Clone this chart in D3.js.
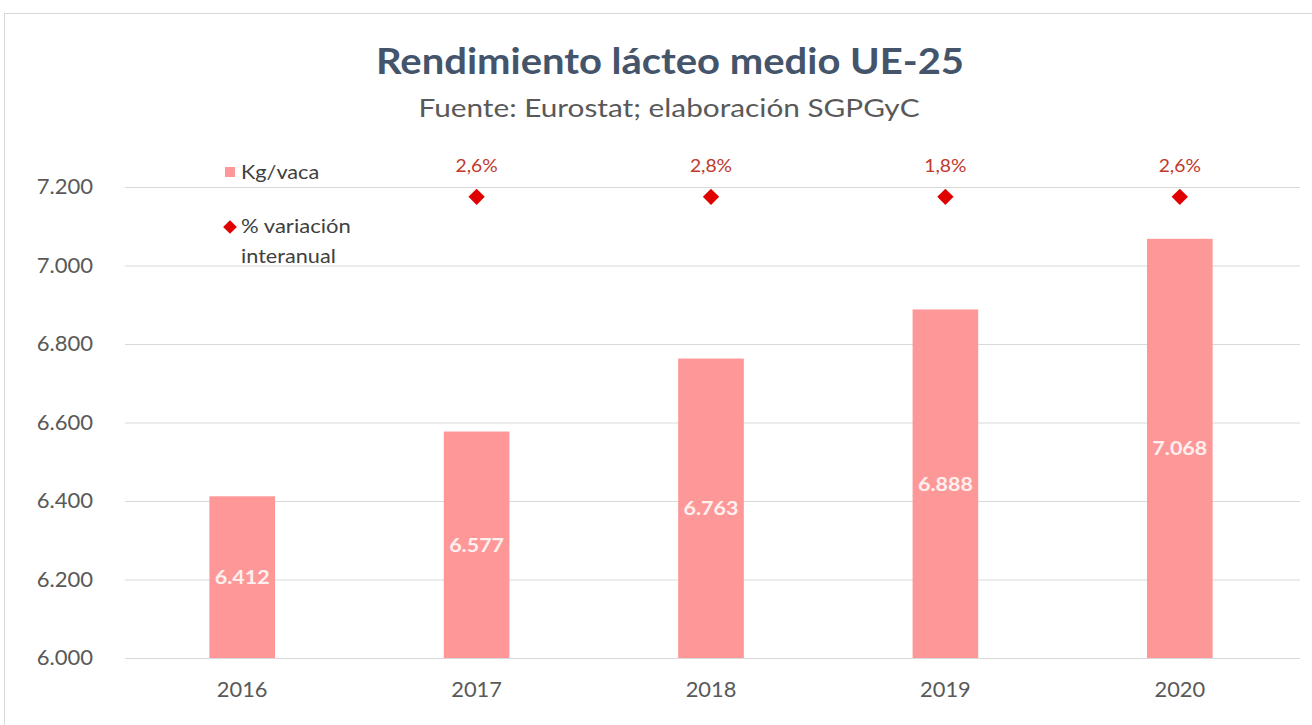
<!DOCTYPE html>
<html>
<head>
<meta charset="utf-8">
<script src="https://cdn.jsdelivr.net/npm/d3@7"></script>
<style>
  body { margin: 0; background: #fff; }
  svg { display: block; }
</style>
</head>
<body>
<div id="chart"></div>
<script>
const width = 1312;
const height = 725;

// data
const years = ["2016", "2017", "2018", "2019", "2020"];
const kgVaca = [6412, 6577, 6763, 6888, 7068];
const variacion = ["", "2,6%", "2,8%", "1,8%", "2,6%"];
const yTicks = [6000, 6200, 6400, 6600, 6800, 7000, 7200];
const markerLevel = 7175; // the % series sits on a flat line near the top

const fmt = v => globalThis.d3.format(",")(v).replace(/,/g, ".");

// the original picture is a bit wide, so text is stretched sideways
function stretch(sel, k) {
    sel.each(function () {
        const len = this.getComputedTextLength();
        globalThis.d3.select(this)
            .attr('textLength', len * k)
            .attr('lengthAdjust', 'spacingAndGlyphs');
    });
}

const margin = {top: 187, right: 15, bottom: 67, left: 125};

const svg = globalThis.d3.select('#chart')
    .append('svg')
    .attr('width', width)
    .attr('height', height);

// outer frame of the chart
svg.append('rect')
    .attr('x', 4.5).attr('y', 13.5)
    .attr('width', width).attr('height', height)
    .attr('fill', 'none')
    .attr('stroke', '#d9d9d9');

const x = globalThis.d3.scaleBand()
    .domain(years)
    .range([margin.left, width - margin.right])
    .paddingInner(0.72)
    .paddingOuter(0.36);

const y = globalThis.d3.scaleLinear()
    .domain([6000, 7200])
    .range([height - margin.bottom, margin.top]);

// title
svg.append('text')
    .attr('x', 670).attr('y', 74)
    .attr('text-anchor', 'middle')
    .style('font-family', 'Lato')
    .style('font-weight', 'bold')
    .style('font-size', '36px')
    .style('fill', '#44546a')
    .text('Rendimiento lácteo medio UE-25')
    .call(stretch, 1.11);

svg.append('text')
    .attr('x', 669).attr('y', 117)
    .attr('text-anchor', 'middle')
    .style('font-family', 'Lato')
    .style('font-size', '25px')
    .style('fill', '#595959')
    .text('Fuente: Eurostat; elaboración SGPGyC')
    .call(stretch, 1.19);

// gridlines + y labels
const yAxis = svg.append('g')
    .attr('transform', `translate(${margin.left},0)`)
    .call(globalThis.d3.axisLeft(y)
        .tickValues(yTicks)
        .tickSize(-(width - margin.left - 12))
        .tickPadding(32)
        .tickFormat(fmt));
yAxis.select('.domain').remove();
yAxis.selectAll('line').attr('stroke', '#d9d9d9');
yAxis.selectAll('text')
    .style('font-family', 'Lato')
    .style('font-size', '21px')
    .style('fill', '#595959')
    .call(stretch, 1.05);

// bars
svg.append('g')
    .selectAll('rect')
    .data(kgVaca)
    .join('rect')
    .attr('x', (d, i) => x(years[i]))
    .attr('width', x.bandwidth())
    .attr('y', d => y(d))
    .attr('height', d => y(6000) - y(d))
    .attr('fill', '#fe9898');

// values inside bars
svg.append('g')
    .selectAll('text')
    .data(kgVaca)
    .join('text')
    .attr('x', (d, i) => x(years[i]) + x.bandwidth() / 2)
    .attr('y', d => (y(d) + y(6000)) / 2 + 7)
    .attr('text-anchor', 'middle')
    .style('font-family', 'Lato')
    .style('font-weight', 'bold')
    .style('font-size', '19px')
    .style('fill', '#fdf0ee')
    .text(d => fmt(d))
    .call(stretch, 1.13);

// x axis
const xAxis = svg.append('g')
    .attr('transform', `translate(0,${y(6000)})`)
    .call(globalThis.d3.axisBottom(x).tickSize(0).tickPadding(24));
xAxis.select('.domain').remove();
xAxis.selectAll('text')
    .style('font-family', 'Lato')
    .style('font-size', '21px')
    .style('fill', '#595959')
    .call(stretch, 1.04);

// % variation markers
const diamond = globalThis.d3.symbol().type(globalThis.d3.symbolDiamond2).size(170);
const pts = years.map((yr, i) => ({yr, lab: variacion[i]})).filter(d => d.lab !== "");

svg.append('g')
    .selectAll('path')
    .data(pts)
    .join('path')
    .attr('d', diamond)
    .attr('transform', d => `translate(${x(d.yr) + x.bandwidth() / 2},${y(markerLevel)})`)
    .attr('fill', '#e00000');

svg.append('g')
    .selectAll('text')
    .data(pts)
    .join('text')
    .attr('x', d => x(d.yr) + x.bandwidth() / 2)
    .attr('y', y(markerLevel) - 25)
    .attr('text-anchor', 'middle')
    .style('font-family', 'Lato')
    .style('font-size', '18px')
    .style('fill', '#c0392b')
    .text(d => d.lab)
    .call(stretch, 1.07);

// legend
const legend = svg.append('g').attr('transform', 'translate(225,0)');
legend.append('rect')
    .attr('x', 0).attr('y', 167)
    .attr('width', 10).attr('height', 10)
    .attr('fill', '#fe9898');
legend.append('text')
    .attr('x', 16).attr('y', 179)
    .style('font-family', 'Lato').style('font-size', '19px').style('fill', '#404040')
    .text('Kg/vaca')
    .call(stretch, 1.14);
legend.append('path')
    .attr('d', globalThis.d3.symbol().type(globalThis.d3.symbolDiamond2).size(120))
    .attr('transform', 'translate(5,227)')
    .attr('fill', '#e00000');
legend.append('text')
    .attr('x', 16).attr('y', 233)
    .style('font-family', 'Lato').style('font-size', '19px').style('fill', '#404040')
    .text('% variación')
    .call(stretch, 1.16);
legend.append('text')
    .attr('x', 16).attr('y', 263)
    .style('font-family', 'Lato').style('font-size', '19px').style('fill', '#404040')
    .text('interanual')
    .call(stretch, 1.14);
</script>
</body>
</html>
